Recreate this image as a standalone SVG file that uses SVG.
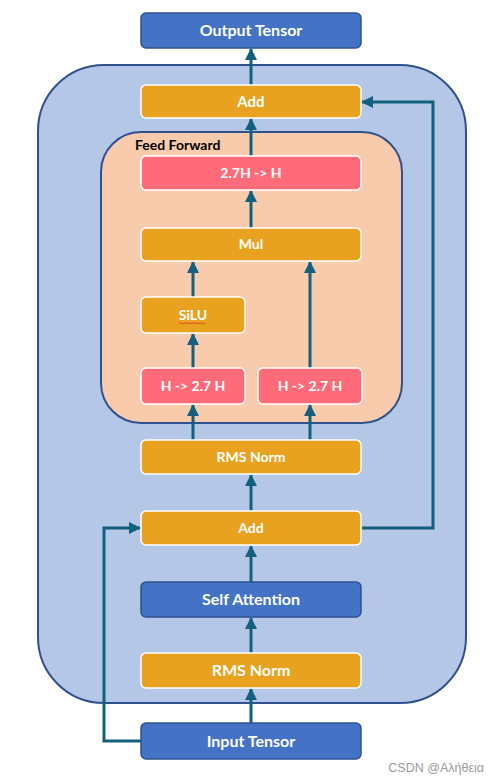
<svg xmlns="http://www.w3.org/2000/svg" width="500" height="784" viewBox="0 0 500 784">
<style>
.blue{fill:#4472C4;stroke:#2F528F;stroke-width:1.5}
.orange{fill:#E9A21F;stroke:#FFFFFF;stroke-width:1.5}
.pink{fill:#FF6B78;stroke:#FFFFFF;stroke-width:1.5}
.lbl{font-family:Lato,"Open Sans",sans-serif;font-weight:bold;fill:#FFFFFF;text-anchor:middle}
.conn{fill:none;stroke:#13607E;stroke-width:3}
</style>
<defs>
<marker id="ah" markerWidth="12" markerHeight="12" viewBox="0 0 12 12" refX="11" refY="6" orient="auto" markerUnits="userSpaceOnUse">
<path d="M0,0 L12,6 L0,12 Z" fill="#13607E"/>
</marker>
</defs>
<rect width="500" height="784" fill="#FFFFFF"/>
<g id="panel-block">
<rect x="38" y="65" width="428" height="638" rx="66" ry="66" fill="#B4C7E7" stroke="#2F528F" stroke-width="2"/>
</g>
<g id="panel-ff">
<rect x="101" y="132" width="301" height="291" rx="40" ry="40" fill="#F8CBAD" stroke="#2F528F" stroke-width="2"/>
<text x="135" y="150" font-family="Lato,'Open Sans',sans-serif" font-weight="bold" font-size="14" fill="#000000">Feed Forward</text>
</g>
<g id="connectors">
<line class="conn" x1="251" y1="723" x2="251" y2="689" marker-end="url(#ah)"/>
<line class="conn" x1="251" y1="653" x2="251" y2="618" marker-end="url(#ah)"/>
<line class="conn" x1="251" y1="582" x2="251" y2="546" marker-end="url(#ah)"/>
<line class="conn" x1="251" y1="511" x2="251" y2="475" marker-end="url(#ah)"/>
<line class="conn" x1="193" y1="440" x2="193" y2="405" marker-end="url(#ah)"/>
<line class="conn" x1="310" y1="440" x2="310" y2="405" marker-end="url(#ah)"/>
<line class="conn" x1="193" y1="368" x2="193" y2="334" marker-end="url(#ah)"/>
<line class="conn" x1="193" y1="297" x2="193" y2="262" marker-end="url(#ah)"/>
<line class="conn" x1="310" y1="368" x2="310" y2="262" marker-end="url(#ah)"/>
<line class="conn" x1="251" y1="228" x2="251" y2="191" marker-end="url(#ah)"/>
<line class="conn" x1="251" y1="156" x2="251" y2="119" marker-end="url(#ah)"/>
<line class="conn" x1="251" y1="85" x2="251" y2="49" marker-end="url(#ah)"/>
<polyline class="conn" points="141,741 104,741 104,528 140,528" marker-end="url(#ah)"/>
<polyline class="conn" points="362,528 433,528 433,102 362,102" marker-end="url(#ah)"/>
</g>
<g id="node-output">
<rect class="blue" x="141" y="13" width="220" height="35" rx="5"/>
<text class="lbl" x="251" y="36" font-size="16">Output Tensor</text>
</g>
<g id="node-add-top">
<rect class="orange" x="141" y="85" width="220" height="33" rx="5"/>
<text class="lbl" x="251" y="107" font-size="15">Add</text>
</g>
<g id="node-down">
<rect class="pink" x="141" y="156" width="220" height="34" rx="5"/>
<text class="lbl" x="251" y="178" font-size="14">2.7H -&gt; H</text>
</g>
<g id="node-mul">
<rect class="orange" x="141" y="228" width="220" height="33" rx="5"/>
<text class="lbl" x="251" y="249" font-size="14">Mul</text>
</g>
<g id="node-silu">
<rect class="orange" x="141" y="297" width="104" height="36" rx="5"/>
<text class="lbl" x="193" y="320" font-size="14">SiLU</text>
<path d="M179,324 l2,-1.5 l2,1.5 l2,-1.5 l2,1.5 l2,-1.5 l2,1.5 l2,-1.5 l2,1.5 l2,-1.5 l2,1.5 l2,-1.5 l2,1.5 l2,-1.5" fill="none" stroke="#E03030" stroke-width="0.8"/>
</g>
<g id="node-up-left">
<rect class="pink" x="141" y="368" width="104" height="36" rx="5"/>
<text class="lbl" x="193" y="391" font-size="14">H -&gt; 2.7 H</text>
</g>
<g id="node-up-right">
<rect class="pink" x="258" y="368" width="104" height="36" rx="5"/>
<text class="lbl" x="310" y="391" font-size="14">H -&gt; 2.7 H</text>
</g>
<g id="node-rms-top">
<rect class="orange" x="141" y="440" width="220" height="34" rx="5"/>
<text class="lbl" x="251" y="462" font-size="14">RMS Norm</text>
</g>
<g id="node-add-bottom">
<rect class="orange" x="141" y="511" width="220" height="34" rx="5"/>
<text class="lbl" x="251" y="533" font-size="14">Add</text>
</g>
<g id="node-attn">
<rect class="blue" x="141" y="582" width="220" height="35" rx="5"/>
<text class="lbl" x="251" y="605" font-size="16">Self Attention</text>
</g>
<g id="node-rms-bottom">
<rect class="orange" x="141" y="653" width="220" height="35" rx="5"/>
<text class="lbl" x="251" y="676" font-size="16">RMS Norm</text>
</g>
<g id="node-input">
<rect class="blue" x="141" y="723" width="220" height="36" rx="5"/>
<text class="lbl" x="251" y="747" font-size="16">Input Tensor</text>
</g>
<text x="484" y="772" font-family="'Liberation Sans',Arial,sans-serif" font-size="12.5" fill="#9A9A9A" text-anchor="end">CSDN @Αλήθεια</text>
</svg>
